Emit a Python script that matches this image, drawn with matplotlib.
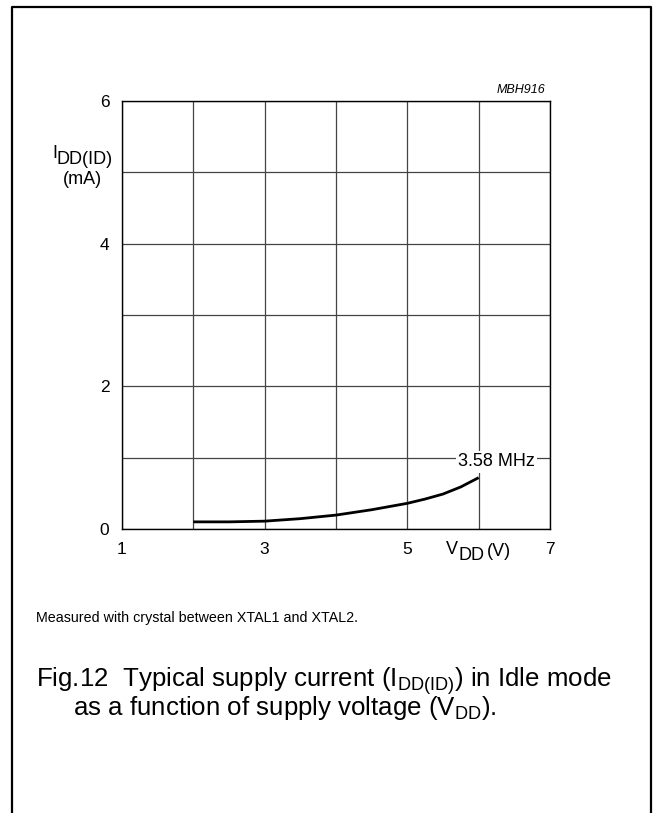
import numpy as np
import matplotlib
matplotlib.use('Agg')
import matplotlib.pyplot as plt

plt.rcParams['font.family'] = ['Liberation Sans', 'DejaVu Sans']
plt.rcParams['mathtext.fontset'] = 'custom'
plt.rcParams['mathtext.rm'] = 'Liberation Sans'
plt.rcParams['mathtext.it'] = 'Liberation Sans:italic'

# supply voltage (V) and idle supply current (mA), 3.58 MHz curve
vdd = [2.0, 2.5, 3.0, 3.5, 4.0, 4.5, 5.0, 5.25, 5.5, 5.75, 6.0]
idd = [0.10, 0.10, 0.11, 0.145, 0.195, 0.27, 0.36, 0.42, 0.49, 0.59, 0.72]
curve_label = '3.58 MHz'
x_ticks = [1, 3, 5, 7]
y_ticks = [0, 2, 4, 6]

W, H = 655, 813


def fx(px):
    return px / W


def fy(py):
    return 1 - py / H


fig = plt.figure(figsize=(W / 100, H / 100), dpi=100)

# outer frame (open at the bottom)
fig.add_artist(plt.Line2D([fx(12), fx(12), fx(651), fx(651)],
                          [0, fy(7), fy(7), 0], color='black', lw=1.6))

ax = fig.add_axes([fx(122), fy(529), fx(550) - fx(122), fy(101) - fy(529)])
ax.set_xlim(1, 7)
ax.set_ylim(0, 6)
ax.set_xticks(range(1, 8))
ax.set_yticks(range(0, 7))
ax.set_xticklabels([str(v) if v in x_ticks else '' for v in range(1, 8)])
ax.set_yticklabels([str(v) if v in y_ticks else '' for v in range(0, 7)])
ax.tick_params(length=0, labelsize=12.5, pad=9)
ax.grid(True, color='#444444', lw=0.9)
for s in ax.spines.values():
    s.set_linewidth(1.0)

ax.plot(vdd, idd, color='black', lw=2.0, solid_capstyle='butt')
ax.text(6.25, 0.94, curve_label, fontsize=13, ha='center', va='center',
        bbox=dict(facecolor='white', edgecolor='none', pad=1.5))

# axis titles
fig.text(fx(52), fy(153), 'I', fontsize=13, ha='left', va='center')
fig.text(fx(57), fy(160), 'DD(ID)', fontsize=13, ha='left', va='center')
fig.text(fx(82), fy(180), '(mA)', fontsize=13, ha='center', va='center')
fig.text(fx(446), fy(549), 'V', fontsize=13, ha='left', va='center')
fig.text(fx(458), fy(556), 'DD', fontsize=13, ha='left', va='center')
fig.text(fx(487), fy(551), '(V)', fontsize=13, ha='left', va='center')

fig.text(fx(545), fy(90), 'MBH916', fontsize=9, style='italic', ha='right', va='center')

fig.text(fx(36), fy(618), 'Measured with crystal between XTAL1 and XTAL2.',
         fontsize=10.3, ha='left', va='center')
fig.text(fx(36), fy(681), r'Fig.12  Typical supply current ($\mathregular{I_{DD(ID)}}$) in Idle mode',
         fontsize=18.6, ha='left', va='center')
fig.text(fx(73), fy(708), r'as a function of supply voltage ($\mathregular{V_{DD}}$).',
         fontsize=18.6, ha='left', va='center')

fig.savefig('out.png', dpi=100)
